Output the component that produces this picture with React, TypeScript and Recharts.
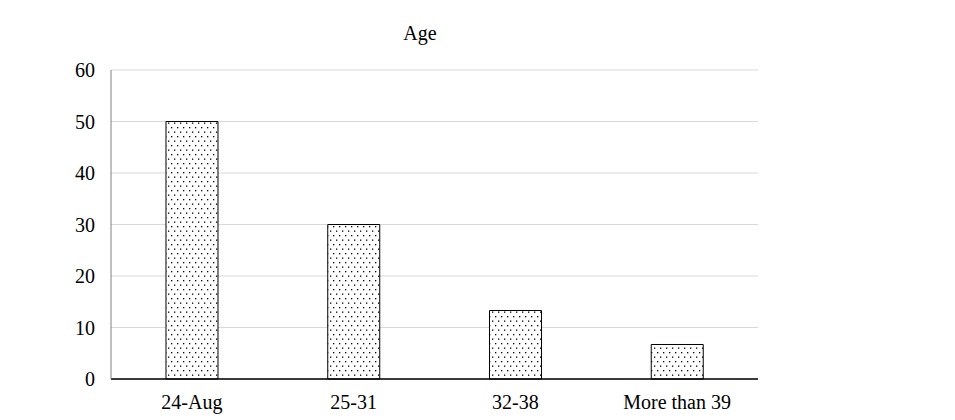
import React from "react";
import { BarChart, Bar, XAxis, YAxis, CartesianGrid } from "recharts";

const categories = ["24-Aug", "25-31", "32-38", "More than 39"];
const values = [50, 30, 13.3, 6.7];
const yTicks = [0, 10, 20, 30, 40, 50, 60];
const title = "Age";

const data = categories.map((c, i) => ({ name: c, value: values[i] }));

const font = "'Liberation Serif', 'Times New Roman', serif";

export default function App() {
  return (
    <div style={{ position: "relative", width: 947, height: 412, fontFamily: font }}>
      <div
        style={{
          position: "absolute",
          left: 0,
          width: 824,
          top: 14,
          textAlign: "center",
          fontSize: 20,
          color: "#000",
        }}
      >
        {title}
      </div>
      <BarChart
        width={947}
        height={412}
        data={data}
        margin={{ top: 62, right: 197, bottom: 11, left: 0 }}
        barCategoryGap="34%"
      >
        <defs>
          <pattern id="dots" width="6" height="9" patternUnits="userSpaceOnUse">
            <rect x="0" y="0" width="6" height="9" fill="#fff" />
            <rect x="1" y="2" width="1.3" height="1.3" fill="#000" />
            <rect x="4" y="6.5" width="1.3" height="1.3" fill="#000" />
          </pattern>
        </defs>
        <CartesianGrid vertical={false} stroke="#d9d9d9" />
        <XAxis
          dataKey="name"
          axisLine={{ stroke: "#000", strokeWidth: 1.3 }}
          tickLine={false}
          tickSize={0}
          tickMargin={16}
          height={30}
          tick={{ fill: "#000", fontSize: 20, fontFamily: font }}
        />
        <YAxis
          domain={[0, 60]}
          ticks={yTicks}
          width={103}
          axisLine={{ stroke: "#808080" }}
          tickLine={false}
          tickSize={0}
          tickMargin={16}
          tick={{ fill: "#000", fontSize: 20, fontFamily: font }}
        />
        <Bar
          dataKey="value"
          fill="url(#dots)"
          stroke="#000"
          strokeWidth={1}
          isAnimationActive={false}
        />
      </BarChart>
    </div>
  );
}
